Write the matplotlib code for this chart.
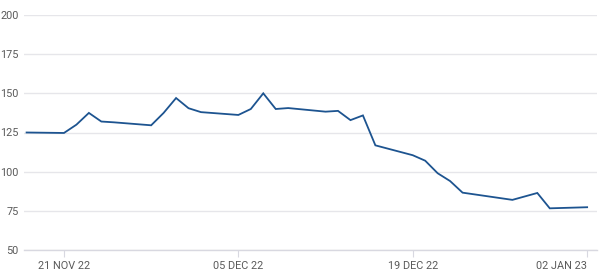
import numpy as np
import pandas as pd
import matplotlib
matplotlib.use("Agg")
import matplotlib.pyplot as plt
import matplotlib.dates as mdates

# daily closes
dates = ["2022-11-18", "2022-11-21", "2022-11-22", "2022-11-23", "2022-11-24",
         "2022-11-25", "2022-11-28", "2022-11-29", "2022-11-30", "2022-12-01",
         "2022-12-02", "2022-12-05", "2022-12-06", "2022-12-07", "2022-12-08",
         "2022-12-09", "2022-12-12", "2022-12-13", "2022-12-14", "2022-12-15",
         "2022-12-16", "2022-12-19", "2022-12-20", "2022-12-21", "2022-12-22",
         "2022-12-23", "2022-12-27", "2022-12-28", "2022-12-29", "2022-12-30",
         "2023-01-02"]
values = [125.0, 124.7, 130.0, 137.5, 132.0,
          131.5, 129.6, 137.5, 147.0, 140.5,
          138.0, 136.2, 140.0, 150.0, 140.0,
          140.6, 138.3, 138.8, 132.9, 135.9,
          116.8, 110.5, 107.0, 99.0, 94.0,
          86.6, 82.0, 84.2, 86.4, 76.6,
          77.3]
tick_dates = ["2022-11-21", "2022-12-05", "2022-12-19", "2023-01-02"]
tick_labels = ["21 NOV 22", "05 DEC 22", "19 DEC 22", "02 JAN 23"]
y_ticks = [50, 75, 100, 125, 150, 175, 200]

x = pd.to_datetime(dates)

plt.rcParams['font.family'] = ['Roboto', 'DejaVu Sans']

fig = plt.figure(figsize=(6, 2.79), dpi=100)
ax = fig.add_axes([24/600, 1-250/279, (597-24)/600, 235/279])

ax.plot(x, values, color='#1d5490', lw=1.3, solid_joinstyle='miter')

ax.set_ylim(50, 200)
ax.set_xlim(pd.Timestamp("2022-11-18") - pd.Timedelta(hours=5),
            pd.Timestamp("2023-01-02") + pd.Timedelta(hours=19))
ax.set_yticks(y_ticks)
ax.set_xticks(pd.to_datetime(tick_dates))
ax.set_xticklabels(tick_labels)
# last label kept inside the frame
last = ax.get_xticklabels()[-1]
last.set_horizontalalignment('right')
last.set_x(pd.Timestamp("2023-01-02") + pd.Timedelta(hours=19))

ax.grid(axis='y', color='#e6e6ea', lw=1)
ax.set_axisbelow(True)
for s in ['top', 'right', 'left']:
    ax.spines[s].set_visible(False)
ax.spines['bottom'].set_color('#d8d8e0')
ax.spines['bottom'].set_linewidth(1)
ax.tick_params(axis='y', length=0, pad=4, labelsize=7.8, labelcolor='#5a5a5a')
ax.tick_params(axis='x', length=5, width=0.8, color='#d8d8e0', pad=3,
               labelsize=7.8, labelcolor='#5a5a5a')

fig.savefig("out.png", dpi=100)
